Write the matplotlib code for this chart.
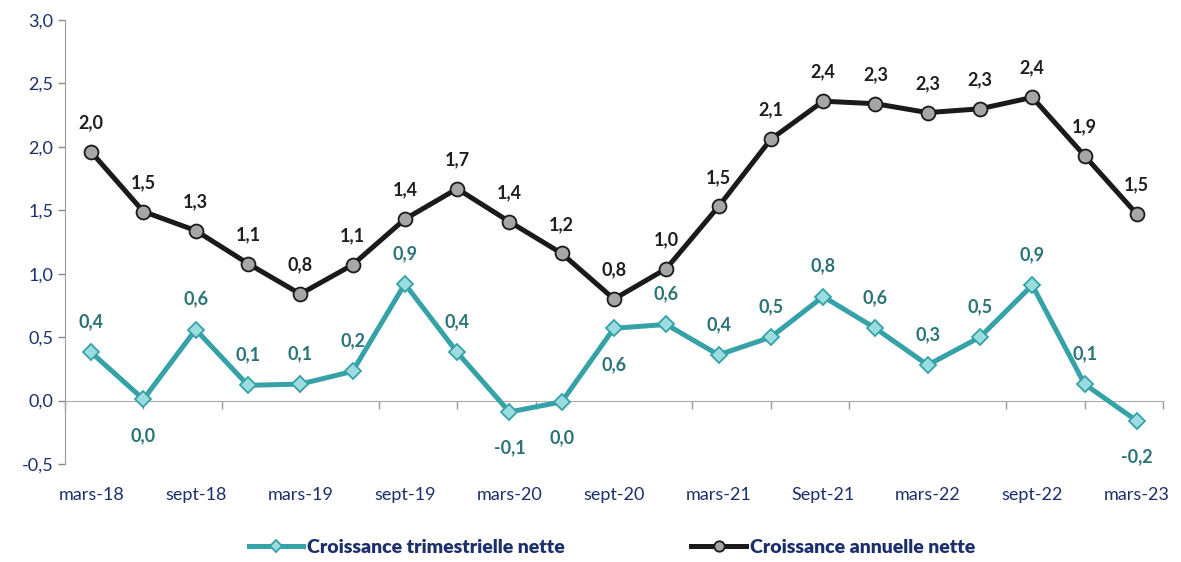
import numpy as np
import matplotlib.pyplot as plt
from matplotlib.ticker import FixedLocator, FuncFormatter

plt.rcParams['font.family'] = ['Lato', 'DejaVu Sans']

periods = ['mars-18', 'juin-18', 'sept-18', 'déc-18', 'mars-19', 'juin-19', 'sept-19',
           'déc-19', 'mars-20', 'juin-20', 'sept-20', 'déc-20', 'mars-21', 'juin-21',
           'Sept-21', 'déc-21', 'mars-22', 'juin-22', 'sept-22', 'déc-22', 'mars-23']
trimestrielle = [0.38, 0.01, 0.56, 0.12, 0.13, 0.23, 0.92, 0.38, -0.09, -0.01, 0.57,
                 0.60, 0.36, 0.50, 0.82, 0.57, 0.28, 0.50, 0.91, 0.13, -0.16]
annuelle = [1.96, 1.49, 1.34, 1.08, 0.84, 1.07, 1.43, 1.67, 1.41, 1.16, 0.80,
            1.04, 1.53, 2.06, 2.36, 2.34, 2.27, 2.30, 2.39, 1.93, 1.47]
labels_below_trim = [1, 8, 9, 10, 20]

navy = '#1B2F6B'
teal = '#35A2A8'
teal_txt = '#2A7376'

fig = plt.figure(figsize=(11.81, 5.62), dpi=100)
ax = fig.add_axes([65/1181, 98/562, 1098/1181, 444/562])

x = np.arange(len(periods))
ax.plot(x, trimestrielle, color=teal, lw=3.6, marker='D', ms=8,
        mfc='#9BDCDF', mec=teal, mew=1.3, label='Croissance trimestrielle nette', zorder=3)
ax.plot(x, annuelle, color='#1a1a1a', lw=3.6, marker='o', ms=10,
        mfc='#A6A6A6', mec='#1a1a1a', mew=1.3, label='Croissance annuelle nette', zorder=3)

def fmt(v):
    s = f"{v:.1f}".replace('.', ',')
    return '0,0' if s == '-0,0' else s

for i, v in enumerate(annuelle):
    ax.annotate(fmt(v), (i, v), xytext=(0, 21), textcoords='offset points',
                ha='center', va='center', fontsize=13, fontweight='bold', color='#1f1f1f')
for i, v in enumerate(trimestrielle):
    dy = -26 if i in labels_below_trim else 22
    ax.annotate(fmt(v), (i, v), xytext=(0, dy), textcoords='offset points',
                ha='center', va='center', fontsize=13, fontweight='bold', color=teal_txt)

ax.set_xlim(-0.5, len(periods) - 0.5)
ax.set_ylim(-0.5, 3.0)
ax.set_yticks(np.arange(-0.5, 3.01, 0.5))
ax.yaxis.set_major_formatter(FuncFormatter(lambda v, p: f"{v:.1f}".replace('.', ',')))
ax.tick_params(axis='y', colors='#888888', labelcolor=navy, labelsize=13, length=5, width=1)

for s in ['top', 'right']:
    ax.spines[s].set_visible(False)
ax.spines['left'].set_color('#999999')
ax.spines['bottom'].set_position(('data', 0))
ax.spines['bottom'].set_color('#aaaaaa')

ax.set_xticks(x[::2])
ax.set_xticklabels(periods[::2])
ax.xaxis.set_minor_locator(FixedLocator(np.linspace(-0.5, len(periods) - 0.5, 15)))
ax.tick_params(axis='x', which='major', length=0, pad=62, labelsize=13, labelcolor=navy)
ax.tick_params(axis='x', which='minor', length=6, width=1, color='#999999', direction='out')

fig.legend(loc='lower center', bbox_to_anchor=(612/1181, -0.02), ncol=2, frameon=False,
           handlelength=2.8, columnspacing=6.5, handletextpad=0.2, markerscale=0.75,
           prop={'weight': 'heavy', 'size': 14}, labelcolor=navy)

fig.savefig('out.png', dpi=100)
